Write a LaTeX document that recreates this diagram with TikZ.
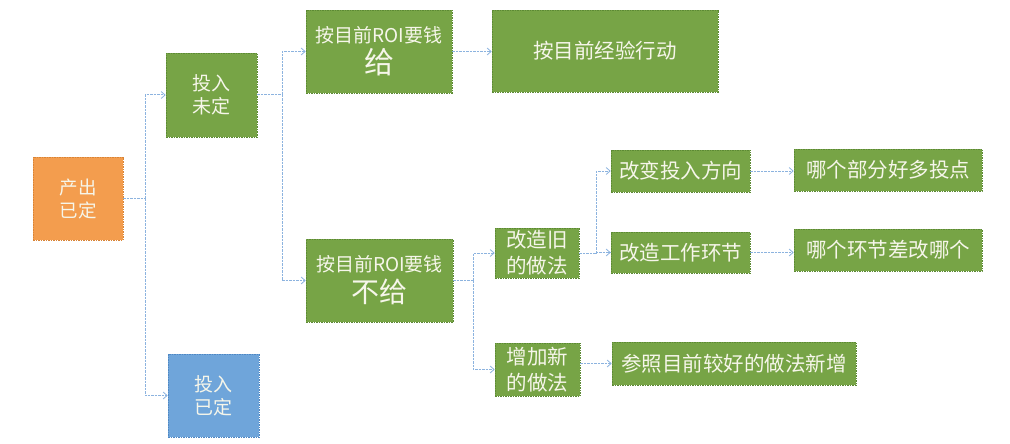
\documentclass[tikz,border=0pt]{standalone}
\usepackage{fontspec}
\setmainfont{Noto Sans CJK SC}
\usetikzlibrary{arrows.meta}
\definecolor{gfill}{HTML}{77A446}
\definecolor{gline}{HTML}{5C8A34}
\definecolor{ofill}{HTML}{F39D4E}
\definecolor{oline}{HTML}{D98436}
\definecolor{bfill}{HTML}{6FA5DA}
\definecolor{bline}{HTML}{4F88C4}
\definecolor{ctext}{HTML}{F6F6EA}
\definecolor{conn}{HTML}{8CB3DF}
\tikzset{
  box/.style={draw, dashed, dash pattern=on 1.5pt off 1pt, line width=0.6pt, inner sep=0pt, text=ctext, align=center},
  gbox/.style={box, fill=gfill, draw=gline},
  obox/.style={box, fill=ofill, draw=oline},
  bbox/.style={box, fill=bfill, draw=bline},
  link/.style={draw=conn, line width=1pt, dash pattern=on 2.5pt off 1pt},
  arr/.style={link, -{Straight Barb[length=4pt,width=7pt,line width=0.8pt]}}
}
\begin{document}
\begin{tikzpicture}[x=1pt,y=-1pt]
\useasboundingbox (0,0) rectangle (1010,444);
% nodes
\node[obox, minimum width=90pt, minimum height=83pt, font=\fontsize{18.5}{23}\selectfont] (p) at (78,198.5) {产出\\已定};
\node[gbox, minimum width=91pt, minimum height=84pt, font=\fontsize{19}{23}\selectfont] (a) at (211.5,95) {投入\\未定};
\node[bbox, minimum width=91pt, minimum height=83pt, font=\fontsize{19}{23}\selectfont] (b) at (213.5,395.5) {投入\\已定};
\node[gbox, minimum width=146pt, minimum height=83pt, font=\fontsize{19}{31}\selectfont] (g) at (379,51.5) {按目前ROI要钱\\{\fontsize{30}{31}\selectfont 给}};
\node[gbox, minimum width=226pt, minimum height=82pt, font=\fontsize{20.5}{25}\selectfont] (e) at (605,51) {按目前经验行动};
\node[gbox, minimum width=147pt, minimum height=83pt, font=\fontsize{19}{31}\selectfont] (n) at (379.5,280.5) {按目前ROI要钱\\{\fontsize{28}{31}\selectfont 不给}};
\node[gbox, minimum width=84pt, minimum height=50pt, font=\fontsize{20.5}{26}\selectfont] (o) at (537,253) {改造旧\\的做法};
\node[gbox, minimum width=85pt, minimum height=53pt, font=\fontsize{20.5}{26}\selectfont] (w) at (537.5,369.5) {增加新\\的做法};
\node[gbox, minimum width=139pt, minimum height=42pt, font=\fontsize{20.5}{25}\selectfont] (c1) at (680.5,171) {改变投入方向};
\node[gbox, minimum width=139pt, minimum height=41pt, font=\fontsize{20.5}{25}\selectfont] (c2) at (680.5,252.5) {改造工作环节};
\node[gbox, minimum width=188pt, minimum height=42pt, font=\fontsize{20.5}{25}\selectfont] (d1) at (888,170) {哪个部分好多投点};
\node[gbox, minimum width=188pt, minimum height=42pt, font=\fontsize{20.5}{25}\selectfont] (d2) at (888,250) {哪个环节差改哪个};
\node[gbox, minimum width=244pt, minimum height=43pt, font=\fontsize{20.5}{25}\selectfont] (r) at (734,363.5) {参照目前较好的做法新增};
% junctions
\coordinate (j1) at (145,198.5);
\coordinate (j2) at (282,95);
\coordinate (j3) at (473,280.5);
\coordinate (j4) at (596,253);
% connectors
\draw[link] (p.east) -- (j1);
\draw[arr] (j1) |- (a.west);
\draw[arr] (j1) |- (b.west);
\draw[link] (a.east) -- (j2);
\draw[arr] (j2) |- (g.west);
\draw[arr] (j2) |- (n.west);
\draw[arr] (g.east) -- (e.west |- g.east);
\draw[link] (n.east) -- (j3);
\draw[arr] (j3) |- (o.west);
\draw[arr] (j3) |- (w.west);
\draw[link] (o.east) -- (j4);
\draw[arr] (j4) |- (c1.west);
\draw[arr] (j4) |- (c2.west);
\draw[arr] (c1.east) -- (d1.west |- c1.east);
\draw[arr] (c2.east) -- (d2.west |- c2.east);
\draw[arr] (w.east |- r.west) -- (r.west);
\end{tikzpicture}
\end{document}
